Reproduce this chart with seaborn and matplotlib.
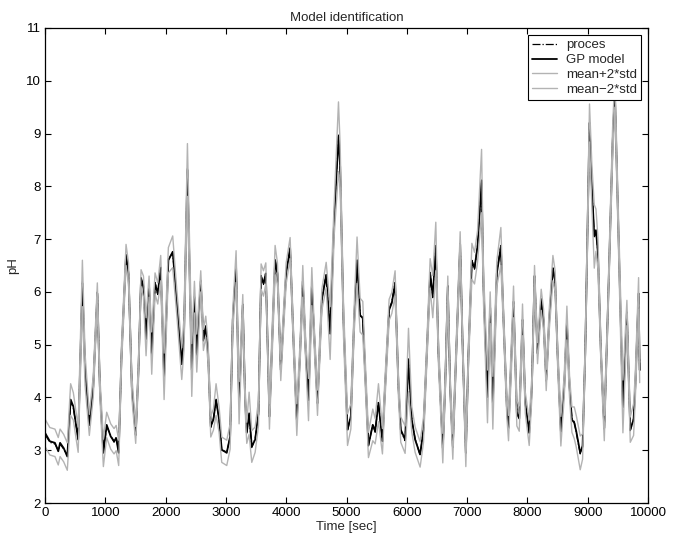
import matplotlib
matplotlib.use("Agg")
import matplotlib.pyplot as plt
import numpy as np
import pandas as pd
import seaborn as sns

# ---- data ----
time_sec = [0, 80, 165, 220, 250, 310, 370, 425, 470, 550,
            620, 665, 735, 800, 868, 910, 968, 1023, 1090, 1145,
            1180, 1222, 1270, 1344, 1385, 1440, 1504, 1550, 1593, 1633,
            1676, 1726, 1770, 1825, 1870, 1919, 1975, 2046, 2118, 2185,
            2268, 2305, 2362, 2405, 2434, 2478, 2517, 2583, 2627, 2666,
            2705, 2749, 2793, 2837, 2887, 2931, 3014, 3070, 3114, 3169,
            3219, 3280, 3318, 3346, 3385, 3429, 3485, 3540, 3584, 3623,
            3662, 3722, 3816, 3855, 3910, 3999, 4065, 4120, 4176, 4230,
            4275, 4325, 4370, 4425, 4465, 4519, 4591, 4663, 4729, 4795,
            4867, 4895, 4950, 5017, 5072, 5127, 5175, 5226, 5270, 5309,
            5364, 5436, 5475, 5530, 5596, 5640, 5707, 5751, 5806, 5862,
            5900, 5972, 6028, 6083, 6138, 6221, 6277, 6332, 6387, 6431,
            6481, 6525, 6597, 6636, 6680, 6719, 6763, 6819, 6885, 6929,
            6979, 7023, 7079, 7123, 7173, 7240, 7272, 7338, 7383, 7427,
            7493, 7560, 7604, 7659, 7687, 7770, 7825, 7865, 7919, 7965,
            8030, 8074, 8118, 8168, 8229, 8268, 8312, 8362, 8423, 8460,
            8500, 8555, 8610, 8655, 8699, 8738, 8777, 8810, 8876, 8915,
            8959, 9030, 9070, 9109, 9137, 9170, 9219, 9275, 9330, 9413,
            9450, 9512, 9584, 9650, 9706, 9761, 9789, 9844, 9862]

gp_mean = [3.33, 3.17, 3.14, 2.98, 3.14, 3.04, 2.88, 3.96, 3.83, 3.20,
           6.16, 4.52, 3.48, 4.20, 5.97, 4.20, 2.95, 3.48, 3.26, 3.17,
           3.23, 2.95, 4.84, 6.70, 6.35, 4.20, 3.29, 4.52, 6.26, 6.10,
           5.15, 6.10, 4.84, 6.16, 5.97, 6.45, 4.40, 6.60, 6.76, 5.81,
           4.64, 5.20, 8.31, 6.10, 4.52, 5.90, 4.84, 6.20, 5.09, 5.34,
           4.84, 3.45, 3.58, 3.96, 3.58, 3.01, 2.95, 3.26, 5.47, 6.48,
           3.90, 5.75, 4.00, 3.33, 3.70, 3.07, 3.20, 3.70, 6.29, 6.16,
           6.35, 3.64, 6.60, 6.35, 4.52, 6.35, 6.83, 5.10, 3.58, 4.84,
           6.20, 4.84, 3.96, 6.10, 5.15, 3.90, 5.85, 6.32, 5.22, 7.36,
           8.94, 8.37, 5.47, 3.39, 3.64, 5.47, 6.60, 5.56, 5.50, 4.52,
           3.10, 3.48, 3.36, 3.90, 3.17, 4.20, 5.66, 5.79, 6.16, 4.20,
           3.39, 3.20, 4.71, 3.58, 3.20, 2.92, 3.39, 4.84, 6.35, 5.91,
           6.86, 4.84, 3.04, 4.20, 6.10, 4.20, 3.07, 4.84, 6.90, 4.84,
           2.95, 4.84, 6.58, 6.45, 6.86, 8.10, 6.10, 4.02, 5.70, 3.90,
           6.35, 6.86, 5.47, 3.83, 3.42, 5.81, 3.70, 3.60, 5.47, 3.90,
           3.33, 4.20, 6.30, 4.84, 5.85, 5.47, 4.33, 5.47, 6.45, 6.20,
           4.84, 3.36, 4.20, 5.41, 4.20, 3.58, 3.52, 3.36, 2.95, 3.07,
           4.84, 9.20, 7.99, 7.05, 7.17, 6.73, 4.84, 3.42, 5.47, 8.81,
           9.80, 7.05, 3.83, 5.60, 3.39, 3.58, 4.20, 5.97, 4.52]

gp_std = [0.13, 0.13, 0.13, 0.13, 0.13, 0.13, 0.13, 0.15, 0.13, 0.12,
          0.22, 0.15, 0.10, 0.10, 0.10, 0.10, 0.13, 0.12, 0.12, 0.12,
          0.12, 0.12, 0.10, 0.10, 0.10, 0.10, 0.08, 0.10, 0.08, 0.10,
          0.18, 0.10, 0.20, 0.10, 0.10, 0.12, 0.22, 0.12, 0.15, 0.12,
          0.15, 0.15, 0.25, 0.20, 0.25, 0.15, 0.18, 0.10, 0.10, 0.10,
          0.10, 0.10, 0.10, 0.15, 0.12, 0.12, 0.12, 0.12, 0.10, 0.15,
          0.20, 0.10, 0.10, 0.10, 0.20, 0.15, 0.12, 0.12, 0.12, 0.12,
          0.10, 0.12, 0.14, 0.10, 0.10, 0.10, 0.10, 0.10, 0.15, 0.10,
          0.15, 0.10, 0.20, 0.18, 0.10, 0.12, 0.10, 0.12, 0.25, 0.15,
          0.33, 0.20, 0.15, 0.15, 0.12, 0.12, 0.22, 0.16, 0.16, 0.12,
          0.12, 0.15, 0.12, 0.18, 0.12, 0.10, 0.10, 0.10, 0.12, 0.10,
          0.12, 0.13, 0.30, 0.12, 0.12, 0.12, 0.12, 0.10, 0.14, 0.20,
          0.23, 0.10, 0.14, 0.10, 0.10, 0.10, 0.12, 0.10, 0.12, 0.10,
          0.13, 0.10, 0.17, 0.15, 0.15, 0.30, 0.15, 0.25, 0.15, 0.25,
          0.12, 0.18, 0.10, 0.10, 0.12, 0.15, 0.12, 0.12, 0.15, 0.10,
          0.12, 0.10, 0.10, 0.10, 0.10, 0.10, 0.10, 0.10, 0.12, 0.10,
          0.10, 0.14, 0.10, 0.16, 0.10, 0.12, 0.15, 0.15, 0.16, 0.12,
          0.10, 0.18, 0.20, 0.30, 0.20, 0.15, 0.10, 0.12, 0.10, 0.15,
          0.15, 0.15, 0.25, 0.12, 0.12, 0.15, 0.12, 0.15, 0.12]

proces = [3.30, 3.15, 3.12, 3.00, 3.12, 3.02, 2.90, 3.92, 3.80, 3.22,
          6.20, 4.50, 3.45, 4.22, 6.00, 4.18, 2.97, 3.45, 3.28, 3.15,
          3.25, 2.97, 4.82, 6.72, 6.33, 4.22, 3.27, 4.55, 6.28, 6.08,
          5.10, 6.12, 4.80, 6.18, 5.95, 6.47, 4.35, 6.62, 6.74, 5.83,
          4.60, 5.22, 8.35, 6.08, 4.50, 5.92, 4.80, 6.22, 5.07, 5.36,
          4.82, 3.43, 3.60, 3.94, 3.60, 3.00, 2.97, 3.24, 5.50, 6.50,
          3.88, 5.77, 3.98, 3.35, 3.68, 3.05, 3.22, 3.68, 6.31, 6.14,
          6.37, 3.62, 6.62, 6.33, 4.50, 6.37, 6.85, 5.08, 3.56, 4.86,
          6.22, 4.82, 3.94, 6.12, 5.13, 3.88, 5.87, 6.34, 5.20, 7.38,
          8.98, 8.35, 5.45, 3.37, 3.66, 5.49, 6.62, 5.54, 5.52, 4.50,
          3.08, 3.50, 3.34, 3.92, 3.15, 4.22, 5.68, 5.81, 6.18, 4.18,
          3.37, 3.18, 4.73, 3.56, 3.22, 2.90, 3.41, 4.86, 6.37, 5.89,
          6.88, 4.82, 3.02, 4.22, 6.12, 4.18, 3.05, 4.86, 6.92, 4.82,
          2.93, 4.86, 6.60, 6.43, 6.88, 8.12, 6.08, 4.00, 5.72, 3.88,
          6.37, 6.88, 5.45, 3.81, 3.44, 5.83, 3.68, 3.62, 5.49, 3.88,
          3.31, 4.22, 6.32, 4.82, 5.87, 5.45, 4.31, 5.49, 6.47, 6.18,
          4.82, 3.34, 4.22, 5.43, 4.18, 3.60, 3.54, 3.34, 2.93, 3.09,
          4.86, 9.22, 7.97, 7.07, 7.15, 6.75, 4.82, 3.40, 5.49, 8.83,
          9.82, 7.03, 3.81, 5.62, 3.37, 3.60, 4.18, 5.99, 4.50]

series_labels = ["proces", "GP model", "mean+2*std", "mean\u22122*std"]
x_ticks = list(range(0, 10001, 1000))
y_ticks = list(range(2, 12))

# ---- build table ----
upper = [m + 2 * s for m, s in zip(gp_mean, gp_std)]
lower = [m - 2 * s for m, s in zip(gp_mean, gp_std)]
df = pd.DataFrame({"t": time_sec, "proces": proces, "gp": gp_mean,
                   "upper": upper, "lower": lower})

sns.set_style("ticks")
plt.rcParams["font.family"] = ["Liberation Sans", "DejaVu Sans"]

fig = plt.figure(figsize=(6.79, 5.38), dpi=100)
ax = fig.add_axes([45 / 679, 35 / 538, 603 / 679, 475 / 538])

grey = "#b3b3b3"
sns.lineplot(data=df, x="t", y="proces", ax=ax, color="black", lw=0.9,
             linestyle="-.", label=series_labels[0], estimator=None, sort=False)
sns.lineplot(data=df, x="t", y="gp", ax=ax, color="black", lw=1.3,
             label=series_labels[1], estimator=None, sort=False)
sns.lineplot(data=df, x="t", y="upper", ax=ax, color=grey, lw=1.0,
             label=series_labels[2], estimator=None, sort=False)
sns.lineplot(data=df, x="t", y="lower", ax=ax, color=grey, lw=1.0,
             label=series_labels[3], estimator=None, sort=False)

fs = 9.5
ax.set_xlim(0, 10000)
ax.set_ylim(2, 11)
ax.set_xticks(x_ticks)
ax.set_yticks(y_ticks)
ax.tick_params(direction="in", top=True, right=True, length=4, width=0.8,
               labelsize=fs, colors="black", pad=3)
for s in ax.spines.values():
    s.set_visible(True)
    s.set_linewidth(0.9)
    s.set_color("black")

ax.set_title("Model identification", fontsize=fs, pad=5)
ax.set_xlabel("Time [sec]", fontsize=fs, labelpad=1.5)
ax.set_ylabel("pH", fontsize=fs, labelpad=5)

leg = ax.legend(loc="upper right", bbox_to_anchor=(0.988, 0.985),
                frameon=True, fancybox=False, edgecolor="black", framealpha=1,
                fontsize=fs, handlelength=1.9, borderpad=0.3,
                labelspacing=0.2, borderaxespad=0, handletextpad=0.7)
leg.get_frame().set_linewidth(0.8)

fig.savefig("out.png", dpi=100, facecolor="white")
